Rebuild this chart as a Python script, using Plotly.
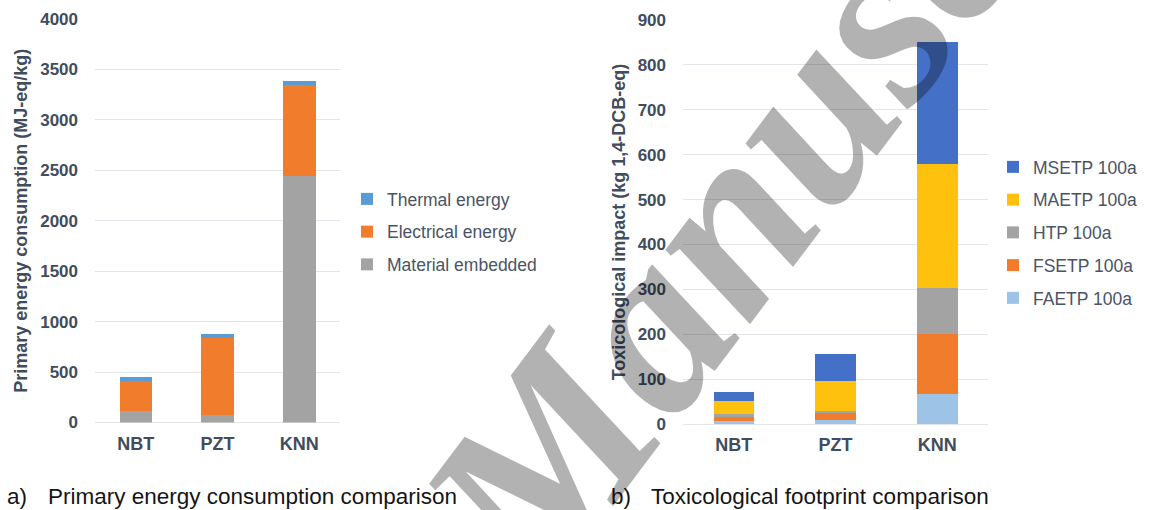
import plotly.graph_objects as go

# ---------------- data ----------------
materials = ["NBT", "PZT", "KNN"]

# a) Primary energy consumption (MJ-eq/kg)
energy_material_embedded = [110, 73, 2447]
energy_electrical = [300, 760, 900]
energy_thermal = [40, 43, 43]
energy_ticks = [0, 500, 1000, 1500, 2000, 2500, 3000, 3500, 4000]

# b) Toxicological impact (kg 1,4-DCB-eq)
tox_faetp = [7, 10, 66]
tox_fsetp = [9, 14, 134]
tox_htp = [6, 6, 102]
tox_maetp = [29, 66, 277]
tox_msetp = [21, 61, 271]
tox_ticks = [0, 100, 200, 300, 400, 500, 600, 700, 800, 900]

# ---------------- style ----------------
W, H = 1150, 510
AX_COL = "#414c5c"
LEG_COL = "#4a5466"
GRID = "#e2e6eb"
FONT = "Liberation Sans, Arial, sans-serif"

def px(x):
    return x / W

def py(y):
    return 1 - y / H

fig = go.Figure()

energy_series = [
    ("Material embedded", energy_material_embedded, "#a3a3a3"),
    ("Electrical energy", energy_electrical, "#f07c2c"),
    ("Thermal energy", energy_thermal, "#5b9bd5"),
]
for i, (name, vals, col) in enumerate(energy_series):
    fig.add_trace(go.Bar(
        x=materials, y=vals, name=name, marker=dict(color=col, line=dict(width=0)),
        xaxis="x", yaxis="y", legend="legend", legendgroup=name,
        legendrank=100 - i,
    ))

tox_series = [
    ("FAETP 100a", tox_faetp, "#9dc3e6"),
    ("FSETP 100a", tox_fsetp, "#f07c2c"),
    ("HTP 100a", tox_htp, "#a3a3a3"),
    ("MAETP 100a", tox_maetp, "#fdc10e"),
    ("MSETP 100a", tox_msetp, "#4470c8"),
]
for i, (name, vals, col) in enumerate(tox_series):
    fig.add_trace(go.Bar(
        x=materials, y=vals, name=name, marker=dict(color=col, line=dict(width=0)),
        xaxis="x2", yaxis="y2", legend="legend2", legendgroup=name,
        legendrank=100 - i,
    ))

tick_font = dict(family=FONT, size=17, color=AX_COL, weight="bold")
title_font = dict(family=FONT, size=18, color=AX_COL, weight="bold")

common_x = dict(showgrid=False, showline=False, zeroline=False, ticks="",
                tickfont=dict(family=FONT, size=18, color=AX_COL, weight="bold"),
                ticklabelstandoff=8, fixedrange=True, automargin=False)
common_y = dict(showgrid=True, gridcolor=GRID, gridwidth=1, zeroline=True,
                zerolinecolor=GRID, zerolinewidth=1, showline=False, ticks="",
                tickfont=tick_font, ticklabelstandoff=16, fixedrange=True,
                automargin=False)

fig.update_layout(
    width=W, height=H,
    margin=dict(l=0, r=0, t=0, b=0, autoexpand=False),
    paper_bgcolor="white", plot_bgcolor="white",
    barmode="stack", bargap=0.6,
    font=dict(family=FONT, color=AX_COL),
    xaxis=dict(domain=[px(95), px(340)], anchor="y", **common_x),
    yaxis=dict(domain=[py(422.5), py(19)], anchor="x", range=[0, 4000],
               tickvals=energy_ticks,
               title=dict(text="Primary energy consumption (MJ-eq/kg)", font=title_font, standoff=7),
               **common_y),
    xaxis2=dict(domain=[px(683), px(988)], anchor="y2", **common_x),
    yaxis2=dict(domain=[py(424), py(20)], anchor="x2", range=[0, 900],
                tickvals=tox_ticks,
                title=dict(text="Toxicological impact (kg 1,4-DCB-eq)", font=title_font, standoff=7),
                **common_y),
    legend=dict(x=px(347), y=py(181), xanchor="left", yanchor="top",
                traceorder="grouped", tracegroupgap=7,
                font=dict(family=FONT, size=17.5, color=LEG_COL),
                bgcolor="rgba(0,0,0,0)", itemclick=False, itemdoubleclick=False),
    legend2=dict(x=px(993), y=py(149), xanchor="left", yanchor="top",
                 traceorder="grouped", tracegroupgap=7,
                 font=dict(family=FONT, size=17.5, color=LEG_COL),
                 bgcolor="rgba(0,0,0,0)", itemclick=False, itemdoubleclick=False),
    showlegend=True,
)

cap_font = dict(family=FONT, size=22.5, color="#151515")
captions = [
    (5, "a)"), (46, "Primary energy consumption comparison"),
    (609, "b)"), (649, "Toxicological footprint comparison"),
]
for x0, txt in captions:
    fig.add_annotation(x=px(x0), y=py(496), xref="paper", yref="paper", text=txt,
                       showarrow=False, xanchor="left", yanchor="middle", font=cap_font)

# watermark
fig.add_annotation(x=px(830), y=py(82), xref="paper", yref="paper",
                   text="Manuscript", showarrow=False, textangle=-53,
                   xanchor="center", yanchor="middle",
                   font=dict(family="Liberation Serif, Times New Roman, serif", size=245,
                             style="italic", weight="bold", color="rgba(0,0,0,0.3)"))

fig.write_html("out.html", config={"displayModeBar": False},
               post_script="document.body.style.margin='0';document.body.style.overflow='hidden';")
